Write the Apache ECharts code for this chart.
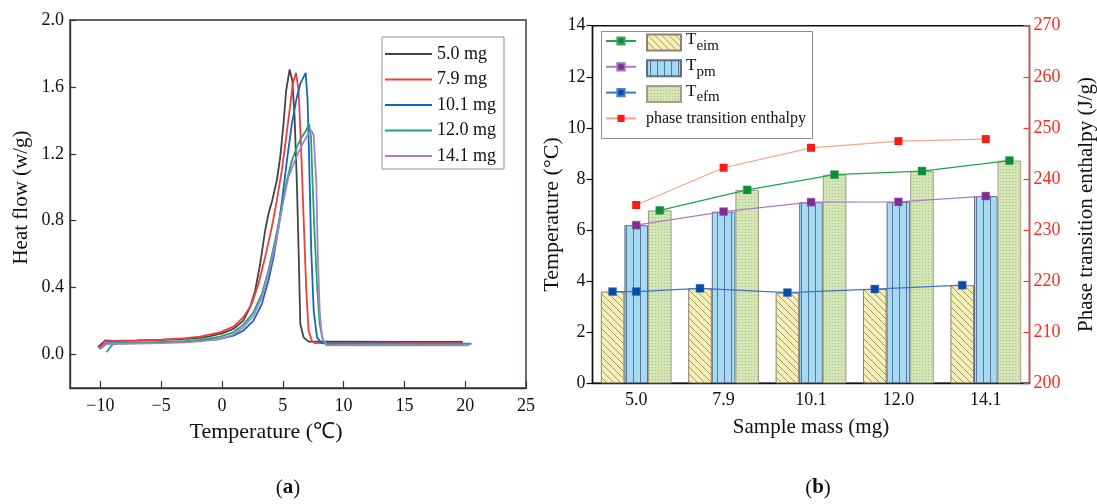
<!DOCTYPE html>
<html><head><meta charset="utf-8">
<script src="https://cdn.jsdelivr.net/npm/echarts@6/dist/echarts.min.js"></script>
<style>html,body{margin:0;padding:0;background:#fff}#c{width:1097px;height:504px}</style>
</head><body><div id="c"></div>
<script>
const FONT = '"Liberation Serif","Times New Roman",serif';

// ---------- Panel (a): DSC heat-flow curves ----------
const massNames = ['5.0 mg', '7.9 mg', '10.1 mg', '12.0 mg', '14.1 mg'];
const curve50 = [[-10.2,0.044],[-9.6,0.085],[-9,0.082],[-7,0.084],[-5,0.088],[-3,0.094],[-1.81,0.10],[-1,0.11],[0,0.127],[0.94,0.153],[1.76,0.203],[2.31,0.283],[2.73,0.383],[3.14,0.543],[3.55,0.742],[3.82,0.842],[4.10,0.912],[4.51,1.042],[4.79,1.181],[5.06,1.381],[5.28,1.58],[5.56,1.704],[5.78,1.64],[5.97,1.42],[6.16,1.02],[6.30,0.62],[6.44,0.183],[6.71,0.103],[7.12,0.077],[10,0.077],[15,0.076],[19.8,0.075]];
const curve79 = [[-10.1,0.034],[-9.6,0.08],[-9,0.08],[-7,0.083],[-5,0.089],[-3,0.098],[-1.81,0.107],[-0.16,0.133],[0.94,0.167],[1.76,0.223],[2.45,0.303],[3.0,0.423],[3.55,0.583],[4.10,0.762],[4.51,0.922],[4.92,1.101],[5.28,1.301],[5.56,1.461],[5.83,1.62],[6.08,1.684],[6.30,1.58],[6.49,1.261],[6.71,0.822],[6.93,0.383],[7.12,0.143],[7.40,0.079],[7.67,0.068],[10,0.07],[15,0.07],[19.8,0.07]];
const curve101 = [[-10.0,0.034],[-9.5,0.068],[-9,0.068],[-7,0.07],[-5,0.072],[-3,0.078],[-1.81,0.083],[-0.16,0.093],[0.94,0.113],[1.76,0.143],[2.59,0.203],[3.28,0.303],[3.82,0.443],[4.24,0.583],[4.65,0.762],[5.01,0.962],[5.34,1.161],[5.75,1.381],[6.16,1.54],[6.44,1.62],[6.88,1.684],[7.04,1.52],[7.18,1.121],[7.34,0.622],[7.54,0.263],[7.81,0.103],[8.22,0.067],[12,0.066],[16,0.065],[20.5,0.065]];
const curve120 = [[-9.5,0.014],[-9.2,0.044],[-8.9,0.066],[-7,0.07],[-5,0.075],[-3,0.08],[-1.81,0.087],[-0.16,0.107],[0.94,0.133],[1.76,0.179],[2.59,0.253],[3.28,0.363],[3.82,0.503],[4.37,0.682],[4.92,0.882],[5.34,1.042],[5.75,1.161],[6.16,1.241],[6.57,1.301],[6.93,1.341],[7.15,1.381],[7.32,1.301],[7.45,1.022],[7.59,0.762],[7.81,0.423],[8.03,0.183],[8.31,0.083],[8.63,0.062],[12,0.064],[16,0.064],[20.5,0.064]];
const curve141 = [[-10.0,0.036],[-9.5,0.062],[-9,0.063],[-7,0.066],[-5,0.068],[-3,0.073],[-1.81,0.079],[-0.16,0.093],[0.94,0.119],[1.76,0.163],[2.59,0.233],[3.28,0.343],[3.96,0.523],[4.51,0.702],[5.06,0.922],[5.47,1.062],[5.89,1.141],[6.30,1.211],[6.71,1.271],[7.12,1.321],[7.34,1.341],[7.54,1.311],[7.67,1.305],[7.76,1.022],[7.87,0.622],[8.03,0.263],[8.22,0.103],[8.58,0.055],[12,0.055],[16,0.055],[20.3,0.055]];
const tempTicksA = [-10, -5, 0, 5, 10, 15, 20, 25];
const heatTicks = [0, 0.4, 0.8, 1.2, 1.6, 2.0];

// ---------- Panel (b): characteristic temperatures & enthalpy ----------
const sampleMass = ['5.0', '7.9', '10.1', '12.0', '14.1'];
const Teim = [3.59, 3.72, 3.55, 3.69, 3.84];
const Tpm  = [6.19, 6.72, 7.09, 7.10, 7.33];
const Tefm = [6.77, 7.57, 8.17, 8.31, 8.72];
const enthalpy = [234.9, 242.2, 246.1, 247.4, 247.8];

const curveColors = ['#444444', '#f23d3d', '#1565c0', '#1ea866', '#a67fcf'];
const curves = [curve50, curve79, curve101, curve120, curve141];

function pattern(w, h, draw) {
  const c = document.createElement('canvas');
  c.width = w; c.height = h;
  const g = c.getContext('2d');
  draw(g, w, h);
  return { image: c, repeat: 'repeat' };
}
const hatchFill = pattern(7, 7, (g, w, h) => {
  g.fillStyle = '#f6efb6'; g.fillRect(0, 0, w, h);
  g.strokeStyle = '#8a8162'; g.lineWidth = 0.8;
  g.beginPath();
  g.moveTo(-1, -1); g.lineTo(w + 1, h + 1);
  g.moveTo(-1, h - 1); g.lineTo(1, h + 1);
  g.moveTo(w - 1, -1); g.lineTo(w + 1, 1);
  g.stroke();
});
const stripeFill = pattern(7, 4, (g, w, h) => {
  g.fillStyle = '#a5daf2'; g.fillRect(0, 0, w, h);
  g.fillStyle = '#56799a'; g.fillRect(3, 0, 1, h);
});
const dotFill = pattern(3, 3, (g, w, h) => {
  g.fillStyle = '#d4e6b3'; g.fillRect(0, 0, w, h);
  g.fillStyle = '#abc08e'; g.fillRect(1, 1, 1, 1);
});

const barOff = 0.27; // offset of side bars, in category units
const greenLine = Tefm.map((v, i) => [i + barOff, v]);
const purpleLine = Tpm.map((v, i) => [i, v]);
const blueLine = Teim.map((v, i) => [i - barOff, v]);
blueLine.splice(1, 0, [0, Teim[0]]);
const redLine = enthalpy.map((v, i) => [i, v]);

const chart = echarts.init(document.getElementById('c'), null, { renderer: 'canvas' });
const axisTxt = { fontFamily: FONT, fontSize: 18, color: '#111' };
const nameTxt = { fontFamily: FONT, fontSize: 21, color: '#111' };

const option = {
  animation: false,
  backgroundColor: '#fff',
  textStyle: { fontFamily: FONT },
  grid: [
    { left: 70, top: 20, width: 456, height: 368, outerBoundsMode: 'none', containLabel: false, show: true, borderColor: '#3d302b', borderWidth: 1.4, backgroundColor: 'transparent' },
    { left: 592.5, top: 25.7, width: 437, height: 357.6, outerBoundsMode: 'none', containLabel: false, show: true, borderColor: '#111', borderWidth: 1.4, backgroundColor: 'transparent' }
  ],
  xAxis: [
    {
      gridIndex: 0, type: 'value', min: -12.5, max: 25,
      axisLine: { onZero: false, lineStyle: { color: '#3d302b', width: 1.4 } },
      axisTick: { inside: true, length: 7, customValues: tempTicksA, lineStyle: { color: '#3d302b', width: 1.2 } },
      axisLabel: { customValues: tempTicksA, margin: 9, ...axisTxt, formatter: v => String(v).replace('-', '\u2212') },
      splitLine: { show: false },
      name: 'Temperature (\u2103)', nameLocation: 'middle', nameGap: 33,
      nameTextStyle: { ...nameTxt, fontSize: 22, padding: [0, 64, 0, 0] }
    },
    {
      gridIndex: 1, type: 'category', data: sampleMass, boundaryGap: true,
      axisLine: { onZero: false, lineStyle: { color: '#111', width: 1.4 } },
      axisTick: { inside: true, length: 6, alignWithLabel: true, lineStyle: { color: '#111', width: 1.2 } },
      axisLabel: { margin: 8, ...axisTxt },
      name: 'Sample mass (mg)', nameLocation: 'middle', nameGap: 34, nameTextStyle: nameTxt
    },
    { gridIndex: 1, type: 'value', min: -0.5, max: 4.5, show: false, axisLine: { onZero: false } }
  ],
  yAxis: [
    {
      gridIndex: 0, type: 'value', min: -0.2, max: 2.0,
      axisLine: { show: true, onZero: false, lineStyle: { color: '#3d302b', width: 1.4 } },
      axisTick: { show: true, inside: true, length: 6, customValues: heatTicks, lineStyle: { color: '#3d302b', width: 1.2 } },
      axisLabel: { customValues: heatTicks, margin: 6, ...axisTxt, formatter: v => v.toFixed(1) },
      splitLine: { show: false },
      name: 'Heat flow (w/g)', nameLocation: 'middle', nameGap: 38, nameRotate: 90,
      nameTextStyle: { ...nameTxt, padding: [0, 0, 0, 13] }
    },
    {
      gridIndex: 1, type: 'value', min: 0, max: 14, interval: 2,
      axisLine: { show: true, onZero: false, lineStyle: { color: '#111', width: 1.4 } },
      axisTick: { show: true, inside: false, length: 6, lineStyle: { color: '#111', width: 1.2 } },
      axisLabel: { margin: 7, ...axisTxt },
      splitLine: { show: false },
      name: 'Temperature (\u00b0C)', nameLocation: 'middle', nameGap: 29, nameRotate: 90,
      nameTextStyle: { ...nameTxt, fontSize: 22, padding: [0, 20, 0, 0] }
    },
    {
      gridIndex: 1, type: 'value', position: 'right', min: 200, max: 270, interval: 10,
      axisLine: { show: true, onZero: false, lineStyle: { color: '#ff3b30', width: 1.4 } },
      axisTick: { show: true, inside: true, length: 6, lineStyle: { color: '#ff3b30', width: 1.2 } },
      axisLabel: { margin: 4, ...axisTxt, color: '#ff2a1f' },
      splitLine: { show: false },
      name: 'Phase transition enthalpy (J/g)', nameLocation: 'middle', nameGap: 46, nameRotate: 90, nameTextStyle: nameTxt
    }
  ],
  legend: [
    {
      data: massNames, orient: 'vertical', left: 382, top: 37,
      icon: 'rect', itemWidth: 47, itemHeight: 2, itemGap: 5.5,
      padding: [7, 8, 3, 3], borderColor: '#8f8f8f', borderWidth: 1,
      textStyle: { fontFamily: FONT, fontSize: 18, lineHeight: 20, color: '#111' }
    },
    {
      data: ['Tefm line', 'Tpm line', 'Teim line', 'phase transition enthalpy'],
      orient: 'vertical', left: 605, top: 31, padding: 0,
      itemWidth: 30, itemHeight: 9, itemGap: 5.8,
      formatter: n => n === 'phase transition enthalpy' ? '{p|' + n + '}' : '{p|\u00a0}',
      textStyle: { fontFamily: FONT, fontSize: 16, lineHeight: 20, color: '#111',
        rich: { p: { fontFamily: FONT, fontSize: 16, lineHeight: 20, padding: [0, 0, 0, 5], color: '#111' } } }
    },
    {
      data: ['Teim', 'Tpm', 'Tefm'], orient: 'vertical', left: 646, top: 31.5, padding: 0,
      icon: 'rect', itemWidth: 34, itemHeight: 16, itemGap: 3.75,
      formatter: n => '{m|T}{s|' + n.slice(1) + '}',
      textStyle: { fontFamily: FONT, color: '#111',
        rich: {
          m: { fontFamily: FONT, fontSize: 17, lineHeight: 22, color: '#111', verticalAlign: 'top' },
          s: { fontFamily: FONT, fontSize: 15, lineHeight: 22, color: '#111', verticalAlign: 'bottom', padding: [5, 0, 0, 0] }
        } }
    }
  ],
  graphic: [
    { type: 'rect', shape: { x: 601.5, y: 31.5, width: 211, height: 107 }, style: { fill: 'none', stroke: '#8c8c8c', lineWidth: 1 }, z: 1 },
    { type: 'text', x: 288, y: 488, style: { text: '{r|(}{b|a}{r|)}', align: 'center', verticalAlign: 'middle',
        rich: { r: { fontFamily: FONT, fontSize: 21, fill: '#111' }, b: { fontFamily: FONT, fontSize: 21, fontWeight: 'bold', fill: '#111' } } } },
    { type: 'text', x: 818, y: 488, style: { text: '{r|(}{b|b}{r|)}', align: 'center', verticalAlign: 'middle',
        rich: { r: { fontFamily: FONT, fontSize: 21, fill: '#111' }, b: { fontFamily: FONT, fontSize: 21, fontWeight: 'bold', fill: '#111' } } } }
  ],
  series: [
    ...curves.map((d, i) => ({
      name: massNames[i], type: 'line', xAxisIndex: 0, yAxisIndex: 0, data: d,
      showSymbol: false, symbol: 'none', lineStyle: { color: curveColors[i], width: 1.8 },
      itemStyle: { color: curveColors[i] }
    })),
    { name: 'Teim', type: 'bar', xAxisIndex: 1, yAxisIndex: 1, data: Teim, barGap: '0%', barCategoryGap: '19%',
      itemStyle: { color: hatchFill, borderColor: '#8d846c', borderWidth: 1 } },
    { name: 'Tpm', type: 'bar', xAxisIndex: 1, yAxisIndex: 1, data: Tpm, barGap: '0%', barCategoryGap: '19%',
      itemStyle: { color: stripeFill, borderColor: '#5c6e80', borderWidth: 1 } },
    { name: 'Tefm', type: 'bar', xAxisIndex: 1, yAxisIndex: 1, data: Tefm, barGap: '0%', barCategoryGap: '19%',
      itemStyle: { color: dotFill, borderColor: '#a39d8a', borderWidth: 1 } },
    { name: 'Tefm line', type: 'line', xAxisIndex: 2, yAxisIndex: 1, data: greenLine, symbol: 'rect', symbolSize: 8,
      lineStyle: { color: '#22a24a', width: 1.2 }, itemStyle: { color: '#0f8a3c', borderColor: '#3aa860', borderWidth: 0.5 }, z: 5 },
    { name: 'Tpm line', type: 'line', xAxisIndex: 2, yAxisIndex: 1, data: purpleLine, symbol: 'rect', symbolSize: 8,
      lineStyle: { color: '#a77cc4', width: 1.2 }, itemStyle: { color: '#7b2f90', borderColor: '#a070c0', borderWidth: 0.5 }, z: 5 },
    { name: 'Teim line', type: 'line', xAxisIndex: 2, yAxisIndex: 1, data: blueLine, symbol: 'rect', symbolSize: 8,
      lineStyle: { color: '#3d74c4', width: 1.2 }, itemStyle: { color: '#0c4ba3', borderColor: '#4a7fd0', borderWidth: 0.5 }, z: 5 },
    { name: 'phase transition enthalpy', type: 'line', xAxisIndex: 2, yAxisIndex: 2, data: redLine, symbol: 'rect', symbolSize: 8,
      lineStyle: { color: '#f8a48c', width: 1.2 }, itemStyle: { color: '#ff1a1a' }, z: 5 }
  ]
};
chart.setOption(option);
</script>
</body></html>
